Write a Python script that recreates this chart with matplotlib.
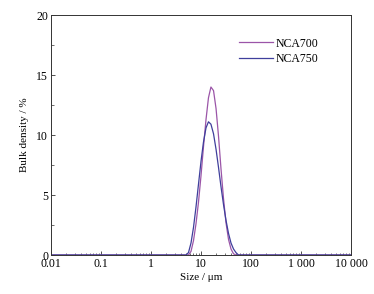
import numpy as np
import matplotlib
matplotlib.use('Agg')
import matplotlib.pyplot as plt
from matplotlib.ticker import LogLocator, FixedLocator, NullFormatter, MultipleLocator

plt.rcParams['font.family'] = ['Liberation Serif', 'DejaVu Serif']
plt.rcParams['font.size'] = 8.5

# particle size (um) and bulk density (%)
size = [0.01, 5.01, 5.62, 6.31, 7.08, 7.94, 8.91, 10.0, 11.2, 12.6, 14.1, 15.8,
        17.8, 20.0, 22.4, 25.1, 28.2, 31.6, 35.5, 39.8, 44.7, 50.1, 56.2, 10000]
nca700 = [0, 0, 0, 0.3, 1.2, 2.6, 4.4, 6.6, 9.0, 11.3, 13.1, 14.0,
          13.7, 12.2, 9.9, 7.2, 4.7, 2.7, 1.3, 0.5, 0.1, 0, 0, 0]
nca750 = [0, 0, 0.2, 1.0, 2.3, 4.0, 5.9, 7.8, 9.4, 10.6, 11.1, 10.9,
          10.1, 8.8, 7.3, 5.7, 4.2, 2.9, 1.8, 1.0, 0.5, 0.2, 0, 0]

xticks = [0.01, 0.1, 1, 10, 100, 1000, 10000]
xlabels = ['0.01', '0.1', '1', '10', '100', '1 000', '10 000']

fig = plt.figure(figsize=(3.74, 2.94), dpi=100)
ax = fig.add_axes([51/374, 1-255/294, 300/374, 240/294])

ax.plot(size, nca700, color='#9b55a8', lw=0.9, label='NCA700')
ax.plot(size, nca750, color='#3f3f9c', lw=0.9, label='NCA750')

ax.set_xscale('log')
ax.set_xlim(0.01, 10000)
ax.set_ylim(0, 20)
ax.xaxis.set_major_locator(FixedLocator(xticks))
ax.set_xticklabels(xlabels)
ax.xaxis.set_minor_locator(LogLocator(base=10, subs=np.arange(2, 10), numticks=20))
ax.xaxis.set_minor_formatter(NullFormatter())
ax.yaxis.set_major_locator(MultipleLocator(5))
ax.yaxis.set_minor_locator(MultipleLocator(2.5))

ax.tick_params(which='both', direction='in', color='#333333')
ax.tick_params(which='major', length=3, width=0.6, pad=2)
ax.tick_params(which='minor', length=1.8, width=0.5)
for s in ax.spines.values():
    s.set_linewidth(0.7)
    s.set_color('#333333')

ax.set_xlabel('Size / \u03bcm', fontsize=8, labelpad=2)
ax.set_ylabel('Bulk density / %', fontsize=8, labelpad=5)

leg = ax.legend(loc='upper right', bbox_to_anchor=(0.925, 0.95), frameon=False,
                handlelength=2.9, handletextpad=0.15, labelspacing=0.3, fontsize=8.5)

fig.savefig('out.png', dpi=100)
